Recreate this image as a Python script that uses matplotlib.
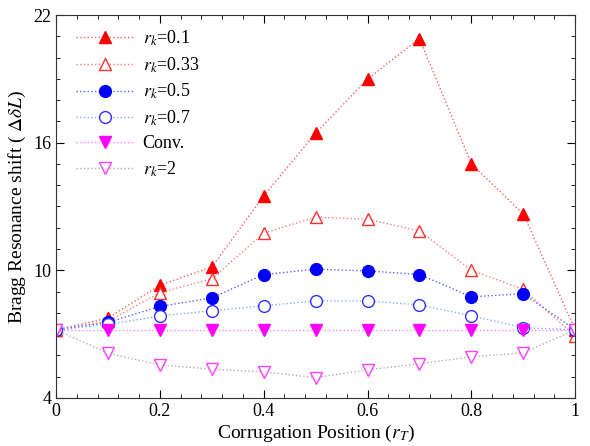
import matplotlib
matplotlib.use('Agg')
import matplotlib.pyplot as plt
from matplotlib.ticker import MultipleLocator

plt.rcParams['font.family'] = 'Liberation Serif'
plt.rcParams['mathtext.fontset'] = 'stix'

# Data
x = [0, 0.1, 0.2, 0.3, 0.4, 0.5, 0.6, 0.7, 0.8, 0.9, 1.0]
rk_01 = [7.2, 7.75, 9.3, 10.15, 13.5, 16.45, 19.0, 20.9, 15.0, 12.65, 7.2]
rk_033 = [7.2, 7.6, 8.95, 9.6, 11.75, 12.5, 12.4, 11.85, 10.0, 9.1, 6.9]
rk_05 = [7.2, 7.55, 8.3, 8.7, 9.8, 10.05, 9.97, 9.8, 8.75, 8.9, 7.2]
rk_07 = [7.2, 7.45, 7.85, 8.1, 8.33, 8.56, 8.56, 8.37, 7.86, 7.3, 7.2]
conv = [7.2] * 11
rk_2 = [7.2, 6.1, 5.55, 5.35, 5.22, 4.95, 5.32, 5.6, 5.93, 6.12, 7.2]

labels = ['$r_k$=0.1', '$r_k$=0.33', '$r_k$=0.5', '$r_k$=0.7', 'Conv.', '$r_k$=2']
series = [rk_01, rk_033, rk_05, rk_07, conv, rk_2]
line_colors = ['#ff6060', '#ff8080', '#6060ff', '#80b0ff', '#ff80ff', '#b0b0b0']
marker_colors = ['red', '#ff3030', 'blue', '#3030ff', 'magenta', '#ff40ff']
markers = ['^', '^', 'o', 'o', 'v', 'v']
filled = [True, False, True, False, True, False]

fig = plt.figure(figsize=(5.9, 4.46), dpi=100)
ax = fig.add_axes([0.095, 0.108, 0.88, 0.858])

for ys, lab, lc, mc, m, f in zip(series, labels, line_colors, marker_colors, markers, filled):
    ax.plot(x, ys, linestyle=':', color=lc, linewidth=1.0,
            marker=m, markersize=9 if m != 'o' else 8.5,
            markerfacecolor=mc if f else 'white',
            markeredgecolor=mc, markeredgewidth=1.0, label=lab)

ax.set_xlim(0, 1)
ax.set_ylim(4, 22)
ax.set_xticks([0, 0.2, 0.4, 0.6, 0.8, 1.0])
ax.set_xticklabels(['0', '0.2', '0.4', '0.6', '0.8', '1'])
ax.set_yticks([4, 10, 16, 22])
ax.xaxis.set_minor_locator(MultipleLocator(0.04))
ax.yaxis.set_minor_locator(MultipleLocator(1))
ax.tick_params(which='both', direction='in', top=True, right=True, labelsize=13)
ax.tick_params(which='major', length=6)
ax.tick_params(which='minor', length=3)
for sp in ax.spines.values():
    sp.set_color('#333333')

ax.set_xlabel('Corrugation Position ($r_T$)', fontsize=14, labelpad=2)
ax.set_ylabel('Bragg Resonance shift ( $\\mathit{\\Delta\\delta L}$)', fontsize=14, labelpad=4)

ax.legend(loc='upper left', bbox_to_anchor=(0.012, 1.0), frameon=False, fontsize=13,
          handlelength=3.2, labelspacing=0.4, borderaxespad=0.35, handletextpad=0.5)

fig.savefig('out.png', dpi=100)
